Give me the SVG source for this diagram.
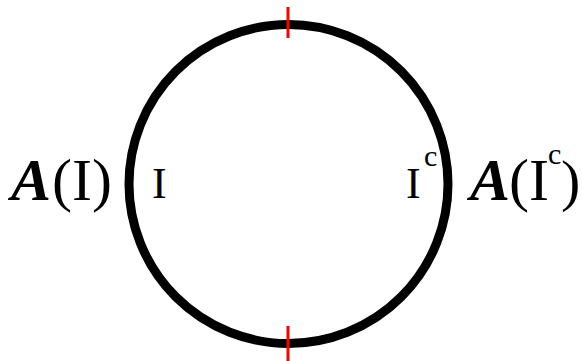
<svg xmlns="http://www.w3.org/2000/svg" width="582" height="361" viewBox="0 0 582 361">
<defs>
<style>
text{font-family:'Liberation Serif', 'Times New Roman', Times, serif;fill:#000}
.b{font-weight:bold;font-style:italic}
.tick{stroke:#ff0000;stroke-width:3}
</style>
</defs>
<rect width="582" height="361" fill="#fff"/>
<g id="circle">
<circle cx="288.5" cy="184" r="159.5" fill="none" stroke="#000" stroke-width="9"/>
</g>
<g id="connectors">
<line class="tick" x1="288" y1="7" x2="288" y2="38"/>
<line class="tick" x1="288" y1="326" x2="288" y2="361"/>
</g>
<g id="label-AI">
<text y="200"><tspan class="b" x="11" font-size="60">A</tspan><tspan x="52" font-size="60">(I)</tspan></text>
</g>
<g id="label-I">
<text x="152" y="198" font-size="44">I</text>
</g>
<g id="label-Ic">
<text y="198"><tspan x="406" font-size="44">I</tspan><tspan x="424" y="166" font-size="30">c</tspan></text>
</g>
<g id="label-AIc">
<text y="200"><tspan class="b" x="470" font-size="60">A</tspan><tspan x="509" font-size="60">(I</tspan><tspan x="548" y="164" font-size="30">c</tspan><tspan x="561" y="200" font-size="58">)</tspan></text>
</g>
</svg>
